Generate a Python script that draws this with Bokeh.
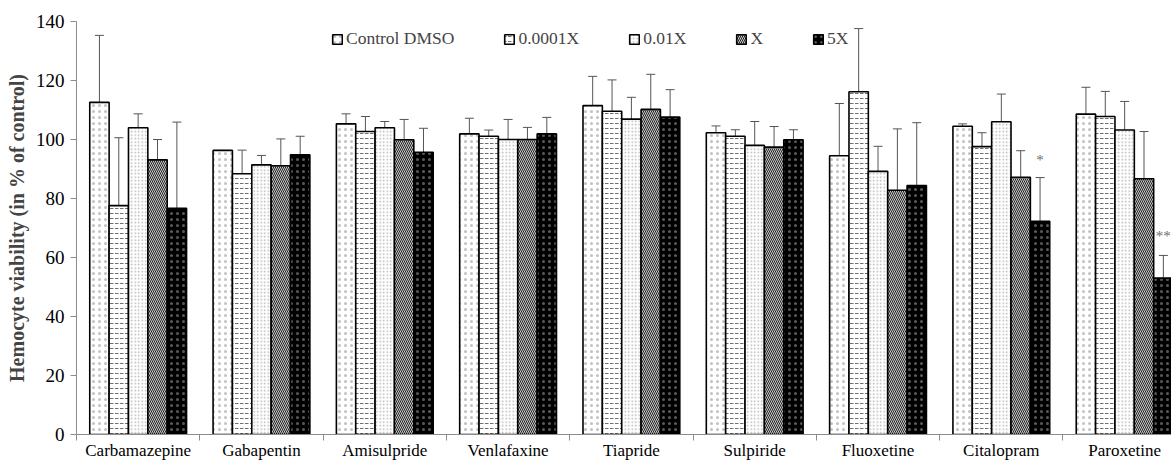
from bokeh.plotting import figure
from bokeh.models import (ColumnDataSource, Range1d, FixedTicker, Whisker, TeeHead,
                          Legend, LegendItem)
from bokeh.transform import dodge
from bokeh.core.properties import value
from bokeh.embed import file_html
from bokeh.resources import INLINE

drugs = ["Carbamazepine", "Gabapentin", "Amisulpride", "Venlafaxine", "Tiapride",
         "Sulpiride", "Fluoxetine", "Citalopram", "Paroxetine"]
series = ["Control DMSO", "0.0001X", "0.01X", "X", "5X"]

# means (% of control)
control_dmso = [112.6, 96.3, 105.3, 101.9, 111.5, 102.3, 94.5, 104.5, 108.6]
c_0001x = [77.6, 88.4, 102.7, 101.1, 109.6, 101.1, 116.2, 97.6, 107.8]
c_001x = [104.0, 91.4, 104.0, 100.0, 106.9, 98.0, 89.2, 106.0, 103.2]
c_x = [93.1, 91.1, 99.9, 100.0, 110.2, 97.4, 82.8, 87.2, 86.7]
c_5x = [76.7, 94.8, 95.7, 101.9, 107.6, 99.9, 84.4, 72.3, 53.0]

# upper end of error bars
top_control_dmso = [135.3, 96.3, 108.7, 107.2, 121.4, 104.6, 112.2, 105.3, 117.7]
top_0001x = [100.6, 96.4, 107.8, 103.2, 120.2, 103.3, 137.6, 102.3, 116.3]
top_001x = [108.7, 94.6, 106.1, 106.8, 114.3, 106.1, 97.7, 115.4, 112.9]
top_x = [100.0, 100.2, 106.8, 104.1, 122.1, 104.4, 103.6, 96.2, 102.7]
top_5x = [105.9, 101.1, 103.8, 107.5, 116.9, 103.3, 105.7, 87.1, 60.7]

sig_drugs = ["Citalopram", "Paroxetine"]
sig_marks = ["*", "**"]
sig_y = [93.1, 67.2]

means = [control_dmso, c_0001x, c_001x, c_x, c_5x]
tops = [top_control_dmso, top_0001x, top_001x, top_x, top_5x]

styles = [
    dict(fill_color="white", hatch_pattern=".", hatch_color="#c2c2c2", hatch_scale=6, hatch_weight=0.8),
    dict(fill_color="white", hatch_pattern="horizontal_dash", hatch_color="#707070", hatch_scale=5, hatch_weight=1),
    dict(fill_color="white", hatch_pattern=".", hatch_color="#b5b5b5", hatch_scale=3.5, hatch_weight=0.8),
    dict(fill_color="#c8c8c8", hatch_pattern="\\", hatch_color="#242424", hatch_scale=4, hatch_weight=1),
    dict(fill_color="black", hatch_pattern=".", hatch_color="#5a5a5a", hatch_scale=6, hatch_weight=1),
]

FONT = "Liberation Serif"
bw = 0.157
offsets = [(k - 2) * bw for k in range(5)]

xs = list(range(len(drugs)))
data = {"x": xs}
for k in range(5):
    data["m%d" % k] = means[k]
    data["t%d" % k] = tops[k]
src = ColumnDataSource(data)

p = figure(width=1171, height=462, output_backend="svg", toolbar_location=None,
           x_range=Range1d(-0.5, 8.38), y_range=Range1d(0, 140),
           min_border_left=76, min_border_right=0, min_border_top=21, min_border_bottom=26)
p.outline_line_color = None
p.xgrid.visible = False
p.ygrid.visible = False

renderers = []
for k in range(5):
    r = p.vbar(x=dodge("x", offsets[k], range=p.x_range), top="m%d" % k, width=bw,
               bottom=0, source=src, line_color="black", line_width=1.6, **styles[k])
    renderers.append(r)
    w = Whisker(source=src, base=dodge("x", offsets[k], range=p.x_range),
                lower="m%d" % k, upper="t%d" % k, line_color="#555555", line_width=1,
                lower_head=None,
                upper_head=TeeHead(size=9, line_color="#555555", line_width=1))
    p.add_layout(w)

sig_src = ColumnDataSource(dict(x=[drugs.index(d) for d in sig_drugs], y=sig_y, t=sig_marks))
p.text(x=dodge("x", offsets[4], range=p.x_range), y="y", text="t", source=sig_src,
       text_align="center", text_baseline="middle", text_color="#707070",
       text_font=value(FONT), text_font_size="15px")

# axes
yax = p.yaxis[0]
yax.ticker = FixedTicker(ticks=list(range(0, 141, 20)))
yax.axis_label = "Hemocyte viability (in % of control)"
yax.axis_label_text_font = FONT
yax.axis_label_text_font_style = "bold"
yax.axis_label_text_font_size = "20px"
yax.major_label_text_font = FONT
yax.major_label_text_font_size = "19px"
yax.major_label_text_color = "black"
yax.axis_line_color = "#8c8c8c"
yax.major_tick_line_color = "#8c8c8c"
yax.major_tick_out = 6
yax.major_tick_in = 0
yax.minor_tick_line_color = None
yax.major_label_standoff = 6
yax.axis_label_standoff = 5

xax = p.xaxis[0]
xax.ticker = FixedTicker(ticks=xs, minor_ticks=[i - 0.5 for i in range(len(drugs) + 1)])
xax.major_label_overrides = {i: d for i, d in enumerate(drugs)}
xax.major_label_text_font = FONT
xax.major_label_text_font_size = "17px"
xax.major_label_text_color = "black"
xax.axis_line_color = "#8c8c8c"
xax.major_tick_line_color = None
xax.major_tick_out = 0
xax.major_tick_in = 0
xax.minor_tick_line_color = "#8c8c8c"
xax.minor_tick_out = 6
xax.minor_tick_in = 0
xax.major_label_standoff = 0

legend = Legend(items=[LegendItem(label=series[k], renderers=[renderers[k]]) for k in range(5)],
                orientation="horizontal", location=(255, 385), spacing=49, label_width=8,
                glyph_width=12, glyph_height=12, label_standoff=3, padding=0, margin=0,
                border_line_alpha=0, background_fill_alpha=0,
                label_text_font=FONT, label_text_font_size="17.5px")
p.add_layout(legend)

open("out.html", "w").write(file_html(p, INLINE))
